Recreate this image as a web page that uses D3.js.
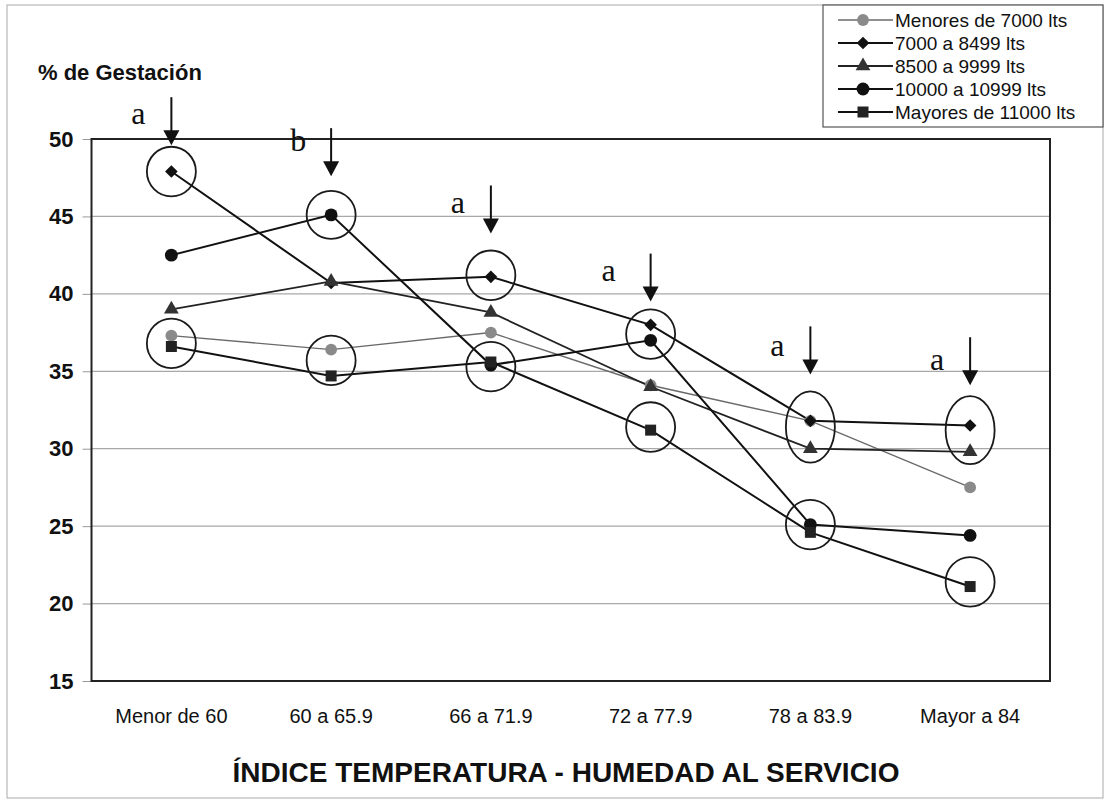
<!DOCTYPE html>
<html>
<head>
<meta charset="utf-8">
<script src="https://cdn.jsdelivr.net/npm/d3@7"></script>
<style>
  body { margin: 0; background: #fff; }
  svg { display: block; font-family: Arial, "Liberation Sans", sans-serif; }
</style>
</head>
<body>
<div id="chart"></div>
<script>
// Data
const categories = ['Menor de 60', '60 a 65.9', '66 a 71.9', '72 a 77.9', '78 a 83.9', 'Mayor a 84'];
const seriesNames = ['Menores de 7000 lts', '7000 a 8499 lts', '8500 a 9999 lts', '10000 a 10999 lts', 'Mayores de 11000 lts'];
const menores7000 = [37.3, 36.4, 37.5, 34.1, 31.8, 27.5];
const de7000a8499 = [47.9, 40.7, 41.1, 38.0, 31.8, 31.5];
const de8500a9999 = [39.0, 40.8, 38.8, 34.0, 30.0, 29.8];
const de10000a10999 = [42.5, 45.1, 35.4, 37.0, 25.1, 24.4];
const mayores11000 = [36.6, 34.7, 35.6, 31.2, 24.6, 21.1];
const yTicks = [15, 20, 25, 30, 35, 40, 45, 50];

// significance letters with arrow tip / letter baseline (in % units)
const sigLetters = ['a', 'b', 'a', 'a', 'a', 'a'];
const arrowTip = [49.6, 47.6, 43.9, 39.5, 34.8, 34.1];
const letterBase = [51.0, 49.2, 45.2, 40.8, 36.0, 35.1];

// ring marks: category index, centre value, half height (in % units)
const ringCat = [0, 0, 1, 1, 2, 2, 3, 3, 4, 4, 5, 5];
const ringValue = [47.9, 36.8, 45.1, 35.7, 41.2, 35.3, 37.4, 31.4, 31.4, 25.1, 31.2, 21.4];
const ringHalf = [1.6, 1.6, 1.55, 1.6, 1.6, 1.6, 1.6, 1.6, 2.3, 1.6, 2.2, 1.6];

const config = {
    width: 1106,
    height: 803,
    margin: { top: 139, right: 56, bottom: 122, left: 91.5 }
};

const svg = d3.select('#chart')
    .append('svg')
    .attr('width', config.width)
    .attr('height', config.height);

// outer chart frame
svg.append('rect')
    .attr('x', 7).attr('y', 5)
    .attr('width', 1096).attr('height', 793)
    .attr('fill', 'none')
    .attr('stroke', '#aaa');

const innerW = config.width - config.margin.left - config.margin.right;
const innerH = config.height - config.margin.top - config.margin.bottom;

const x = d3.scaleBand()
    .domain(categories)
    .range([config.margin.left, config.margin.left + innerW]);
const xc = c => x(c) + x.bandwidth() / 2;

const y = d3.scaleLinear()
    .domain([15, 50])
    .range([config.margin.top + innerH, config.margin.top]);

// gridlines
svg.append('g')
    .selectAll('line')
    .data(yTicks.filter(t => t > 15 && t < 50))
    .join('line')
    .attr('x1', x.range()[0]).attr('x2', x.range()[1])
    .attr('y1', d => y(d)).attr('y2', d => y(d))
    .attr('stroke', '#a8a8a8')
    .attr('stroke-width', 1.2);

// y axis
const yAxis = svg.append('g')
    .attr('transform', `translate(${config.margin.left},0)`)
    .call(d3.axisLeft(y).tickValues(yTicks).tickSize(9).tickPadding(9));
yAxis.select('.domain').remove();
yAxis.selectAll('.tick line').attr('stroke', '#999');
yAxis.selectAll('.tick text')
    .attr('font-size', 22)
    .attr('font-weight', 'bold')
    .attr('fill', '#111')
    .attr('font-family', 'Arial, "Liberation Sans", sans-serif');

// x axis
const xAxis = svg.append('g')
    .attr('transform', `translate(0,${y(15)})`)
    .call(d3.axisBottom(x).tickSize(0).tickPadding(28));
xAxis.select('.domain').remove();
xAxis.selectAll('.tick text')
    .attr('font-size', 20)
    .attr('fill', '#111')
    .attr('font-family', 'Arial, "Liberation Sans", sans-serif');

// plot frame
svg.append('rect')
    .attr('x', x.range()[0]).attr('y', y(50))
    .attr('width', innerW).attr('height', innerH)
    .attr('fill', 'none')
    .attr('stroke', '#222')
    .attr('stroke-width', 2);

// series
const series = [
    { name: seriesNames[0], values: menores7000, symbol: d3.symbolCircle, size: 110, fill: '#8a8a8a', line: '#6a6a6a', lw: 1.4, rot: 0 },
    { name: seriesNames[1], values: de7000a8499, symbol: d3.symbolSquare, size: 80, fill: '#111', line: '#111', lw: 2, rot: 45 },
    { name: seriesNames[2], values: de8500a9999, symbol: d3.symbolTriangle, size: 95, fill: '#333', line: '#222', lw: 1.8, rot: 0 },
    { name: seriesNames[3], values: de10000a10999, symbol: d3.symbolCircle, size: 130, fill: '#111', line: '#111', lw: 2, rot: 0 },
    { name: seriesNames[4], values: mayores11000, symbol: d3.symbolSquare, size: 121, fill: '#222', line: '#111', lw: 2, rot: 0 }
];

const line = d3.line()
    .x((d, i) => xc(categories[i]))
    .y(d => y(d));

series.forEach(s => {
    svg.append('path')
        .datum(s.values)
        .attr('d', line)
        .attr('fill', 'none')
        .attr('stroke', s.line)
        .attr('stroke-width', s.lw);
});

series.forEach(s => {
    svg.append('g')
        .selectAll('path')
        .data(s.values)
        .join('path')
        .attr('d', d3.symbol(s.symbol, s.size))
        .attr('transform', (d, i) => `translate(${xc(categories[i])},${y(d)}) rotate(${s.rot})`)
        .attr('fill', s.fill);
});

// rings around significant points
const ringRx = 24.5;
svg.append('g')
    .selectAll('ellipse')
    .data(ringCat.map((c, i) => ({ c, v: ringValue[i], h: ringHalf[i] })))
    .join('ellipse')
    .attr('cx', d => xc(categories[d.c]))
    .attr('cy', d => y(d.v))
    .attr('rx', ringRx)
    .attr('ry', d => y(d.v - d.h) - y(d.v))
    .attr('fill', 'none')
    .attr('stroke', '#1a1a1a')
    .attr('stroke-width', 1.8);

// arrows and letters
const arrowLen = 48, headLen = 15, headW = 8;
const arrows = svg.append('g');
categories.forEach((c, i) => {
    const ax = xc(c), tip = y(arrowTip[i]);
    arrows.append('line')
        .attr('x1', ax).attr('x2', ax)
        .attr('y1', tip - arrowLen).attr('y2', tip - headLen + 1)
        .attr('stroke', '#111').attr('stroke-width', 2);
    arrows.append('path')
        .attr('d', `M${ax - headW},${tip - headLen}L${ax + headW},${tip - headLen}L${ax},${tip}Z`)
        .attr('fill', '#111');
    arrows.append('text')
        .attr('x', ax - (i === 3 ? 42 : 33))
        .attr('y', y(letterBase[i]))
        .attr('text-anchor', 'middle')
        .attr('font-family', '"Liberation Serif", "Times New Roman", serif')
        .attr('font-size', 32)
        .attr('fill', '#111')
        .text(sigLetters[i]);
});

// titles
svg.append('text')
    .attr('x', 38).attr('y', 80)
    .attr('font-size', 22)
    .attr('font-weight', 'bold')
    .attr('fill', '#111')
    .text('% de Gestación');

svg.append('text')
    .attr('x', 566).attr('y', 782)
    .attr('text-anchor', 'middle')
    .attr('font-size', 28)
    .attr('font-weight', 'bold')
    .attr('fill', '#111')
    .text('ÍNDICE TEMPERATURA - HUMEDAD AL SERVICIO');

// legend
const legend = svg.append('g');
legend.append('rect')
    .attr('x', 823).attr('y', 5)
    .attr('width', 280).attr('height', 122)
    .attr('fill', '#fff')
    .attr('stroke', '#555')
    .attr('stroke-width', 1.2);

const rowY = d3.scaleLinear().domain([0, 4]).range([20, 112]);
series.forEach((s, i) => {
    const ly = rowY(i);
    legend.append('line')
        .attr('x1', 838).attr('x2', 893)
        .attr('y1', ly).attr('y2', ly)
        .attr('stroke', s.line).attr('stroke-width', s.lw);
    legend.append('path')
        .attr('d', d3.symbol(s.symbol, s.size))
        .attr('transform', `translate(863,${ly}) rotate(${s.rot})`)
        .attr('fill', s.fill);
    legend.append('text')
        .attr('x', 895).attr('y', ly)
        .attr('dy', '0.35em')
        .attr('font-size', 19)
        .attr('fill', '#111')
        .text(s.name);
});
</script>
</body>
</html>
